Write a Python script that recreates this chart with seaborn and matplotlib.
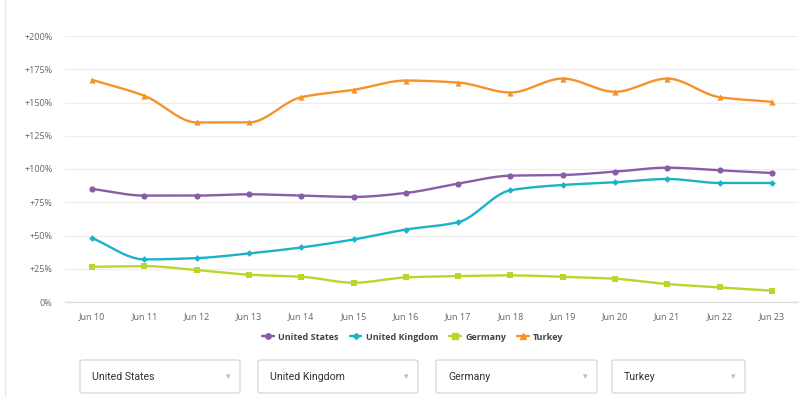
import numpy as np
import pandas as pd
import matplotlib
matplotlib.use("Agg")
import matplotlib.pyplot as plt
from matplotlib.patches import FancyBboxPatch
from matplotlib.lines import Line2D
import seaborn as sns

dates = ["Jun 10", "Jun 11", "Jun 12", "Jun 13", "Jun 14", "Jun 15", "Jun 16",
         "Jun 17", "Jun 18", "Jun 19", "Jun 20", "Jun 21", "Jun 22", "Jun 23"]
united_states = [85, 80, 80, 81, 80, 79, 82, 89, 95, 95.5, 98, 101, 99, 97]
united_kingdom = [48, 32, 33, 36.5, 41, 47, 54.5, 60, 84, 88, 90, 92.5, 89.5, 89.5]
germany = [26.5, 27, 24, 20.5, 19, 14.5, 18.5, 19.5, 20, 19, 17.5, 13.5, 11, 8.5]
turkey = [167, 155, 135, 135, 154, 159.5, 166.5, 165, 157.5, 168, 158, 168, 154, 150.5]
yticks = [0, 25, 50, 75, 100, 125, 150, 175, 200]
ytick_labels = ["0%", "+25%", "+50%", "+75%", "+100%", "+125%", "+150%", "+175%", "+200%"]

series_names = ["United States", "United Kingdom", "Germany", "Turkey"]
series_values = [united_states, united_kingdom, germany, turkey]
colors = ["#8a5ca8", "#1ab3c8", "#bcd52b", "#f6922a"]
markers = ["o", "D", "s", "^"]
msizes = [3.9, 3.0, 3.7, 3.9]

rows = []
for name, vals in zip(series_names, series_values):
    for i, v in enumerate(vals):
        rows.append({"idx": i, "date": dates[i], "value": v, "country": name})
df = pd.DataFrame(rows)

sns.set_theme(style="white")
plt.rcParams["font.family"] = ["Open Sans", "DejaVu Sans"]

fig = plt.figure(figsize=(8.12, 3.97), dpi=100)
W, H = 812, 397
ax = fig.add_axes([65 / W, (H - 302) / H, (798 - 65) / W, (302 - 36) / H])


def smooth(y):
    # monotone cubic (Fritsch-Carlson) rendering of the line through the data points
    y = np.asarray(y, dtype=float)
    n = len(y)
    d = np.diff(y)
    m = np.zeros(n)
    m[0], m[-1] = d[0], d[-1]
    for i in range(1, n - 1):
        if d[i - 1] * d[i] <= 0:
            m[i] = 0.0
        else:
            m[i] = 2.0 / (1.0 / d[i - 1] + 1.0 / d[i])
    xs, ys = [], []
    t = np.linspace(0, 1, 24, endpoint=False)
    h00 = 2 * t**3 - 3 * t**2 + 1
    h10 = t**3 - 2 * t**2 + t
    h01 = -2 * t**3 + 3 * t**2
    h11 = t**3 - t**2
    for i in range(n - 1):
        xs.extend(i + t)
        ys.extend(h00 * y[i] + h10 * m[i] + h01 * y[i + 1] + h11 * m[i + 1])
    xs.append(n - 1)
    ys.append(y[-1])
    return np.array(xs), np.array(ys)


for name, c, m, ms in zip(series_names, colors, markers, msizes):
    sub = df[df["country"] == name]
    sx, sy = smooth(sub["value"].values)
    ax.plot(sx, sy, color=c, lw=1.7, solid_capstyle="round", zorder=2)
    sns.scatterplot(data=sub, x="idx", y="value", ax=ax, color=c, marker=m,
                    s=ms**2 * 1.3, edgecolor=c, linewidth=0, zorder=3, legend=False)

ax.set_xlim(-0.52, 13.5)
ax.set_ylim(0, 200)
ax.set_yticks(yticks)
ax.set_yticklabels(ytick_labels)
ax.set_xticks(range(len(dates)))
ax.set_xticklabels(dates)
ax.set_xlabel("")
ax.set_ylabel("")
ax.grid(axis="y", color="#eeeeee", lw=0.9)
ax.set_axisbelow(True)
for s in ["top", "right", "left"]:
    ax.spines[s].set_visible(False)
ax.spines["bottom"].set_color("#dddddd")
ax.spines["bottom"].set_linewidth(1)
ax.tick_params(axis="both", length=0, labelsize=6.5, labelcolor="#666666")
ax.tick_params(axis="y", pad=9)
ax.tick_params(axis="x", pad=7)

# legend
handles = [Line2D([0], [0], color=c, lw=1.7, marker=m, markersize=ms)
           for c, m, ms in zip(colors, markers, msizes)]
leg = fig.legend(handles, series_names, loc="center", bbox_to_anchor=(413 / W, (H - 337) / H),
                 ncol=4, frameon=False, prop={"size": 6.5, "weight": "bold"},
                 handlelength=1.3, columnspacing=1.2, handletextpad=0.5)
for t in leg.get_texts():
    t.set_color("#444444")

# dropdown boxes
boxes = [(80, 240), (258, 418), (436, 597), (612, 745)]
for (x0, x1), name in zip(boxes, series_names):
    y0, y1 = H - 393, H - 360
    p = FancyBboxPatch((x0 / W, y0 / H), (x1 - x0) / W, (y1 - y0) / H,
                       boxstyle="round,pad=0,rounding_size=0.004",
                       transform=fig.transFigure, facecolor="white",
                       edgecolor="#d6d6d6", lw=0.9)
    fig.patches.append(p)
    fig.text((x0 + 12) / W, (y0 + y1) / 2 / H, name, fontsize=7.6, color="#333333",
             va="center", ha="left", family=["Roboto", "DejaVu Sans"])
    fig.text((x1 - 12) / W, (y0 + y1) / 2 / H, "\u25BE", fontsize=6.5, color="#bbbbbb",
             va="center", ha="center", family=["DejaVu Sans"])

# card border on the left
fig.add_artist(Line2D([5 / W, 5 / W], [0, 1], transform=fig.transFigure,
                      color="#e6e6e6", lw=1))

fig.savefig("out.png", dpi=100, facecolor="white")
